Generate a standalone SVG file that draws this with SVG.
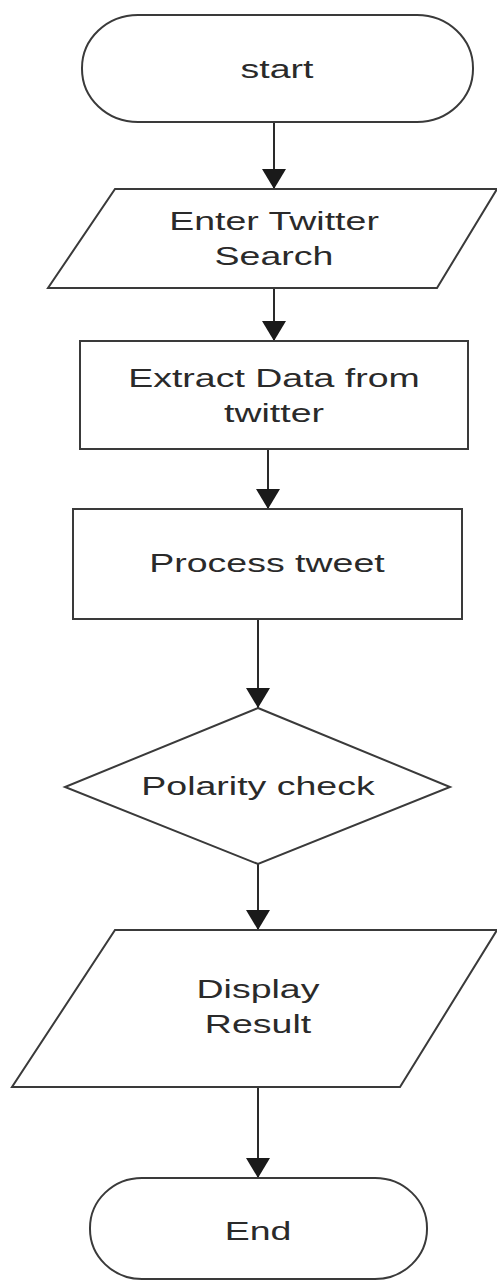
<svg xmlns="http://www.w3.org/2000/svg" width="497" height="1281" viewBox="0 0 497 1281">
<defs>
<style>
.shape{fill:#ffffff;stroke:#3a3a3a;stroke-width:2}
.conn{stroke:#2a2a2a;stroke-width:2;fill:none}
.lbl{font-family:"Liberation Sans",Arial,sans-serif;font-size:25px;fill:#2a2a2a;text-anchor:middle}
</style>
<marker id="arr" markerUnits="userSpaceOnUse" viewBox="0 0 20 24" refX="20" refY="12" markerWidth="20" markerHeight="24" orient="auto">
<path d="M0,0 L20,12 L0,24 z" fill="#1a1a1a"/>
</marker>
</defs>
<rect width="497" height="1281" fill="#ffffff"/>
<g id="connectors">
<line class="conn" x1="274" y1="122" x2="274" y2="189" marker-end="url(#arr)"/>
<line class="conn" x1="274" y1="288" x2="274" y2="341" marker-end="url(#arr)"/>
<line class="conn" x1="268" y1="449" x2="268" y2="509" marker-end="url(#arr)"/>
<line class="conn" x1="258" y1="619" x2="258" y2="708" marker-end="url(#arr)"/>
<line class="conn" x1="258" y1="864" x2="258" y2="930" marker-end="url(#arr)"/>
<line class="conn" x1="258" y1="1087" x2="258" y2="1178" marker-end="url(#arr)"/>
</g>
<g id="start">
<rect class="shape" x="82" y="15" width="391" height="107" rx="56" ry="53"/>
<g transform="translate(277,78) scale(1.5,1)"><text class="lbl" x="0" y="0">start</text></g>
</g>
<g id="enter-search">
<polygon class="shape" points="115,189 497,189 437,288 48,288"/>
<g transform="translate(274,230) scale(1.5,1)"><text class="lbl" x="0" y="0">Enter Twitter</text></g>
<g transform="translate(274,265) scale(1.5,1)"><text class="lbl" x="0" y="0">Search</text></g>
</g>
<g id="extract">
<rect class="shape" x="80" y="341" width="388" height="108"/>
<g transform="translate(274,387) scale(1.5,1)"><text class="lbl" x="0" y="0">Extract Data from</text></g>
<g transform="translate(274,422) scale(1.5,1)"><text class="lbl" x="0" y="0">twitter</text></g>
</g>
<g id="process">
<rect class="shape" x="73" y="509" width="389" height="110"/>
<g transform="translate(267,572) scale(1.5,1)"><text class="lbl" x="0" y="0">Process tweet</text></g>
</g>
<g id="polarity">
<polygon class="shape" points="258,708 450,787 258,864 65,787"/>
<g transform="translate(258,795) scale(1.5,1)"><text class="lbl" x="0" y="0">Polarity check</text></g>
</g>
<g id="display">
<polygon class="shape" points="115,930 497,930 400,1087 12,1087"/>
<g transform="translate(258,998) scale(1.5,1)"><text class="lbl" x="0" y="0">Display</text></g>
<g transform="translate(258,1033) scale(1.5,1)"><text class="lbl" x="0" y="0">Result</text></g>
</g>
<g id="end">
<rect class="shape" x="90" y="1178" width="337" height="101" rx="52" ry="50"/>
<g transform="translate(258,1240) scale(1.5,1)"><text class="lbl" x="0" y="0">End</text></g>
</g>
</svg>
